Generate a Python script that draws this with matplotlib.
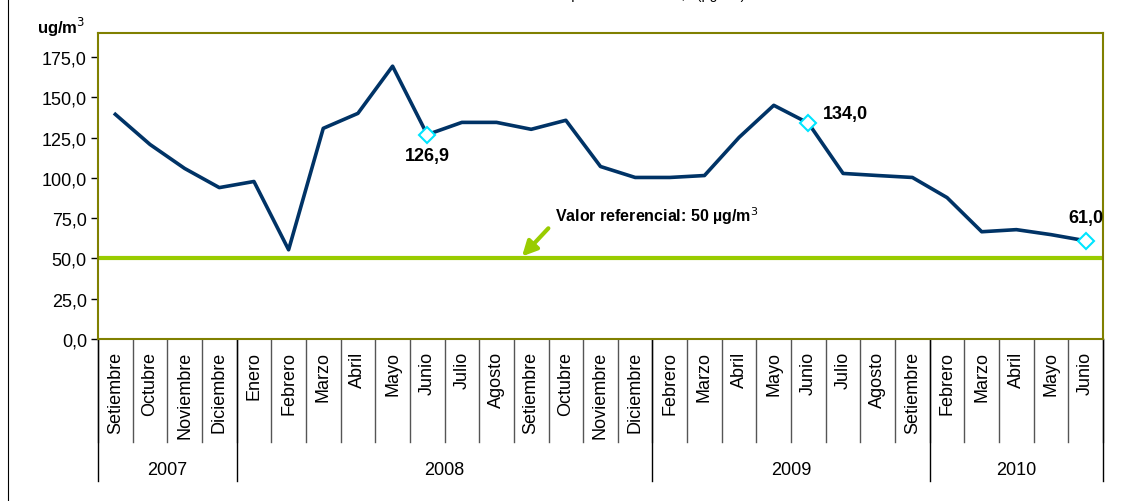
import numpy as np
import matplotlib.pyplot as plt
from matplotlib.lines import Line2D

plt.rcParams['font.family'] = ['Liberation Sans', 'DejaVu Sans']

# datos
meses = ['Setiembre', 'Octubre', 'Noviembre', 'Diciembre',
         'Enero', 'Febrero', 'Marzo', 'Abril', 'Mayo', 'Junio', 'Julio', 'Agosto',
         'Setiembre', 'Octubre', 'Noviembre', 'Diciembre',
         'Febrero', 'Marzo', 'Abril', 'Mayo', 'Junio', 'Julio', 'Agosto', 'Setiembre',
         'Febrero', 'Marzo', 'Abril', 'Mayo', 'Junio']
anios = ['2007', '2008', '2009', '2010']
meses_por_anio = [4, 12, 8, 5]
valores = [139.5, 120.8, 105.9, 94.0,
           97.8, 55.4, 130.8, 140.1, 169.4, 126.9, 134.5, 134.5,
           130.2, 135.8, 107.1, 100.3,
           100.3, 101.5, 125.2, 145.1, 134.0, 102.8, 101.5, 100.3,
           87.8, 66.6, 67.9, 64.8, 61.0]
destacados = [9, 20, 28]
etiquetas = ['126,9', '134,0', '61,0']
ref = 50

navy = '#003366'
verde = '#99CC00'
oliva = '#808000'

fig = plt.figure(figsize=(11.21, 5.02), dpi=100)
ax = fig.add_axes([98/1121, 1-340/502, (1103-98)/1121, 306/502])

x = np.arange(len(valores))
ax.plot(x, valores, color=navy, lw=2.6, zorder=3)
ax.axhline(ref, color=verde, lw=3, zorder=2)
ax.plot(np.array(x)[destacados], np.array(valores)[destacados], ls='none',
        marker='D', ms=8, mfc='white', mec='#00E5FF', mew=1.5, zorder=4)

ax.set_xlim(-0.5, len(valores) - 0.5)
ax.set_ylim(0, 190)
ax.set_yticks(np.arange(0, 176, 25))
ax.set_yticklabels([('%.1f' % v).replace('.', ',') for v in np.arange(0, 176, 25)],
                   fontsize=13)
ax.tick_params(axis='y', direction='out', length=5, width=1, color='black', pad=3)
ax.set_xticks([])
for s in ax.spines.values():
    s.set_color(oliva)
    s.set_linewidth(1.5)

# etiquetas de los meses y separadores
tr = ax.get_xaxis_transform()
for i, m in enumerate(meses):
    ax.text(i, -0.04, m, rotation=90, ha='center', va='top', fontsize=13,
            transform=tr, clip_on=False)
    ax.add_line(Line2D([i - 0.5, i - 0.5], [0, -0.337], transform=tr, color='#555555',
                       lw=1, clip_on=False))
ax.add_line(Line2D([len(meses) - 0.5] * 2, [0, -0.337], transform=tr, color='#555555',
                   lw=1, clip_on=False))

ini = 0
for a, n in zip(anios, meses_por_anio):
    ax.add_line(Line2D([ini - 0.5] * 2, [0, -0.464], transform=tr, color='black',
                       lw=1, clip_on=False))
    ax.text(ini + (n - 1) / 2, -0.425, a, ha='center', va='center', fontsize=13,
            transform=tr, clip_on=False)
    ini += n
ax.add_line(Line2D([ini - 0.5] * 2, [0, -0.464], transform=tr, color='black',
                   lw=1, clip_on=False))

# valores destacados
ax.annotate(etiquetas[0], (destacados[0], valores[destacados[0]]), xytext=(0, -15),
            textcoords='offset points', ha='center', va='center',
            fontsize=13, fontweight='bold')
ax.annotate(etiquetas[1], (destacados[1], valores[destacados[1]]), xytext=(27, 7),
            textcoords='offset points', ha='center', va='center',
            fontsize=13, fontweight='bold')
ax.annotate(etiquetas[2], (destacados[2], valores[destacados[2]]), xytext=(0, 17),
            textcoords='offset points', ha='center', va='center',
            fontsize=13, fontweight='bold')

# valor referencial
ax.annotate('', xy=(11.68, ref), xytext=(12.55, 70),
            arrowprops=dict(arrowstyle='-|>', color=verde, lw=3, mutation_scale=22))
ax.text(12.7, 77, 'Valor referencial: 50 µg/m$^3$', fontsize=11.5, fontweight='bold',
        ha='left', va='center')

fig.text(37/1121, 1-27/502, 'ug/m$^3$', fontsize=12, fontweight='bold',
         ha='left', va='center')
fig.text(0.52, 1.0 + 1/502, 'Concentración mensual promedio de PM2,5 (µg/m3)', fontsize=10,
         ha='center', va='baseline')

fig.add_artist(Line2D([7.5/1121, 7.5/1121], [0, 1], color='black', lw=0.8))

fig.savefig('out.png', dpi=100)
